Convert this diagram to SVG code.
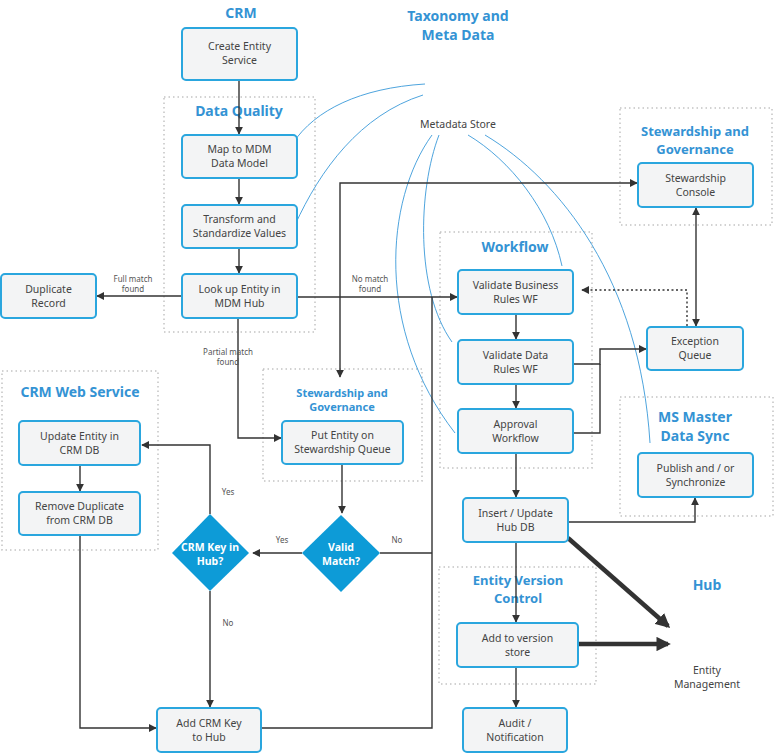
<svg xmlns="http://www.w3.org/2000/svg" width="782" height="755" viewBox="0 0 782 755">
<defs>
<style>
text{font-family:"Noto Sans","Open Sans","Liberation Sans",sans-serif;text-anchor:middle}
.box{fill:#f3f4f5;stroke:#2aa6de;stroke-width:2}
.bt{font-size:10.5px;fill:#444}
.grp{fill:none;stroke:#c4c4c4;stroke-width:1.5;stroke-dasharray:1.5 3}
.ttl{font-size:14px;font-weight:bold;fill:#3493d4}
.t13{font-size:13px}
.sm{font-size:8px;fill:#555}
.ln{fill:none;stroke:#333;stroke-width:1.4}
.thk{fill:none;stroke:#333;stroke-width:4.5}
.cv{fill:none;stroke:#3a9ad9;stroke-width:0.9}
.dia{fill:#0d9bd7}
.dt{font-size:10.5px;font-weight:bold;fill:#fff}
</style>
<marker id="ah" viewBox="0 0 10 10" refX="9" refY="5" markerWidth="8" markerHeight="8" markerUnits="userSpaceOnUse" orient="auto-start-reverse"><path d="M0,0 L10,5 L0,10 z" fill="#333"/></marker>
<marker id="ahb" viewBox="0 0 10 10" refX="8" refY="5" markerWidth="3.2" markerHeight="3.2" orient="auto"><path d="M0,0 L10,5 L0,10 z" fill="#333"/></marker>
</defs>
<rect width="782" height="755" fill="#fff"/>

<g id="groups">
<rect class="grp" x="164" y="97" width="151" height="235"/>
<rect class="grp" x="620" y="108" width="152" height="117"/>
<rect class="grp" x="440" y="232" width="152" height="236"/>
<rect class="grp" x="620" y="397" width="153" height="119"/>
<rect class="grp" x="263" y="369" width="159" height="112"/>
<rect class="grp" x="2" y="371" width="156" height="179"/>
<rect class="grp" x="439" y="567" width="157" height="117"/>
</g>

<g id="titles">
<text class="ttl" x="241" y="18">CRM</text>
<text class="ttl" x="458" y="21">Taxonomy and</text>
<text class="ttl" x="458" y="40">Meta Data</text>
<text class="ttl" x="239" y="116">Data Quality</text>
<text class="ttl t13" x="695" y="136">Stewardship and</text>
<text class="ttl t13" x="695" y="154">Governance</text>
<text class="ttl" x="515" y="252">Workflow</text>
<text class="ttl" x="80" y="397">CRM Web Service</text>
<text class="ttl" x="342" y="397" style="font-size:11px">Stewardship and</text>
<text class="ttl" x="342" y="411" style="font-size:11px">Governance</text>
<text class="ttl" x="695" y="422">MS Master</text>
<text class="ttl" x="695" y="441">Data Sync</text>
<text class="ttl t13" x="518" y="585">Entity Version</text>
<text class="ttl t13" x="518" y="603">Control</text>
<text class="ttl" x="707" y="590">Hub</text>
<text class="bt" x="458" y="128">Metadata Store</text>
<text class="bt" x="707" y="674">Entity</text>
<text class="bt" x="707" y="688">Management</text>
</g>

<g id="connectors">
<path class="cv" d="M425,84 C360,88 315,110 293,143"/>
<path class="cv" d="M423,95 C360,115 320,170 295,225"/>
<path class="cv" d="M432,135 C385,200 375,330 455,433"/>
<path class="cv" d="M439,135 C418,190 415,290 452,342"/>
<path class="cv" d="M468,135 C510,160 550,210 562,266"/>
<path class="cv" d="M485,135 C560,180 640,280 650,443"/>

<path class="ln" d="M239,80 V134" marker-end="url(#ah)"/>
<path class="ln" d="M239,178 V204" marker-end="url(#ah)"/>
<path class="ln" d="M239,248 V273" marker-end="url(#ah)"/>
<path class="ln" d="M182,296 H97" marker-end="url(#ah)"/>
<path class="ln" d="M297,297 H457" marker-end="url(#ah)"/>
<path class="ln" d="M340,297 V183 H637" marker-end="url(#ah)"/>
<path class="ln" d="M340,297 V377" marker-end="url(#ah)"/>
<path class="ln" d="M238,318 V438 H281" marker-end="url(#ah)"/>
<path class="ln" d="M342,464 V513" marker-end="url(#ah)"/>
<path class="ln" d="M302,553 H253" marker-end="url(#ah)"/>
<path class="ln" d="M380,553 H432"/>
<path class="ln" d="M210,514 V445 H142" marker-end="url(#ah)"/>
<path class="ln" d="M210,591 V707" marker-end="url(#ah)"/>
<path class="ln" d="M80,465 V491" marker-end="url(#ah)"/>
<path class="ln" d="M80,535 V728 H156" marker-end="url(#ah)"/>
<path class="ln" d="M261,728 H432 V297"/>
<path class="ln" d="M516,314 V339" marker-end="url(#ah)"/>
<path class="ln" d="M516,384 V408" marker-end="url(#ah)"/>
<path class="ln" d="M516,453 V497" marker-end="url(#ah)"/>
<path class="ln" d="M573,364 H600 V349 H646" marker-end="url(#ah)"/>
<path class="ln" d="M573,433 H600 V364"/>
<path class="ln" d="M568,522 H695 V498" marker-end="url(#ah)"/>
<path class="ln" d="M516,542 V622" marker-end="url(#ah)"/>
<path class="ln" d="M516,667 V707" marker-end="url(#ah)"/>
<path class="ln" d="M696,208 V326" marker-start="url(#ah)" marker-end="url(#ah)"/>
<path class="ln" d="M687,326 V290 H582" stroke-dasharray="2 2.5" marker-end="url(#ah)"/>
<path class="thk" d="M568,538 L668,626" marker-end="url(#ahb)"/>
<path class="thk" d="M578,644 H668" marker-end="url(#ahb)"/>

<text class="sm" x="133" y="282">Full match</text>
<text class="sm" x="133" y="292">found</text>
<text class="sm" x="370" y="282">No match</text>
<text class="sm" x="370" y="292">found</text>
<text class="sm" x="228" y="355">Partial match</text>
<text class="sm" x="228" y="365">found</text>
<text class="sm" x="282" y="543">Yes</text>
<text class="sm" x="397" y="543">No</text>
<text class="sm" x="228" y="495">Yes</text>
<text class="sm" x="228" y="626">No</text>
</g>

<g id="create-entity"><rect class="box" x="182" y="28" width="115" height="52" rx="4"/><text class="bt" x="239.5" y="50">Create Entity</text><text class="bt" x="239.5" y="64">Service</text></g>
<g id="map-mdm"><rect class="box" x="182" y="135" width="115" height="43" rx="4"/><text class="bt" x="239.5" y="153">Map to MDM</text><text class="bt" x="239.5" y="167">Data Model</text></g>
<g id="transform"><rect class="box" x="182" y="205" width="115" height="43" rx="4"/><text class="bt" x="239.5" y="223">Transform and</text><text class="bt" x="239.5" y="237">Standardize Values</text></g>
<g id="lookup"><rect class="box" x="182" y="274" width="115" height="44" rx="4"/><text class="bt" x="239.5" y="293">Look up Entity in</text><text class="bt" x="239.5" y="307">MDM Hub</text></g>
<g id="duplicate"><rect class="box" x="1" y="274" width="95" height="44" rx="4"/><text class="bt" x="48.5" y="293">Duplicate</text><text class="bt" x="48.5" y="307">Record</text></g>
<g id="steward-console"><rect class="box" x="638" y="163" width="115" height="44" rx="4"/><text class="bt" x="695.5" y="182">Stewardship</text><text class="bt" x="695.5" y="196">Console</text></g>
<g id="validate-business"><rect class="box" x="458" y="270" width="115" height="44" rx="4"/><text class="bt" x="515.5" y="289">Validate Business</text><text class="bt" x="515.5" y="303">Rules WF</text></g>
<g id="validate-data"><rect class="box" x="458" y="340" width="115" height="44" rx="4"/><text class="bt" x="515.5" y="359">Validate Data</text><text class="bt" x="515.5" y="373">Rules WF</text></g>
<g id="approval"><rect class="box" x="458" y="409" width="115" height="44" rx="4"/><text class="bt" x="515.5" y="428">Approval</text><text class="bt" x="515.5" y="442">Workflow</text></g>
<g id="exception"><rect class="box" x="647" y="327" width="96" height="43" rx="4"/><text class="bt" x="695" y="345">Exception</text><text class="bt" x="695" y="359">Queue</text></g>
<g id="publish"><rect class="box" x="638" y="453" width="115" height="44" rx="4"/><text class="bt" x="695.5" y="472">Publish and / or</text><text class="bt" x="695.5" y="486">Synchronize</text></g>
<g id="insert"><rect class="box" x="463" y="498" width="105" height="44" rx="4"/><text class="bt" x="515.5" y="517">Insert / Update</text><text class="bt" x="515.5" y="531">Hub DB</text></g>
<g id="add-version"><rect class="box" x="457" y="623" width="121" height="44" rx="4"/><text class="bt" x="517.5" y="642">Add to version</text><text class="bt" x="517.5" y="656">store</text></g>
<g id="audit"><rect class="box" x="463" y="708" width="104" height="44" rx="4"/><text class="bt" x="515" y="727">Audit /</text><text class="bt" x="515" y="741">Notification</text></g>
<g id="put-entity"><rect class="box" x="282" y="421" width="121" height="43" rx="4"/><text class="bt" x="342.5" y="439">Put Entity on</text><text class="bt" x="342.5" y="453">Stewardship Queue</text></g>
<g id="update-entity"><rect class="box" x="19" y="421" width="121" height="44" rx="4"/><text class="bt" x="79.5" y="440">Update Entity in</text><text class="bt" x="79.5" y="454">CRM DB</text></g>
<g id="remove-duplicate"><rect class="box" x="19" y="492" width="121" height="43" rx="4"/><text class="bt" x="79.5" y="510">Remove Duplicate</text><text class="bt" x="79.5" y="524">from CRM DB</text></g>
<g id="add-crm-key"><rect class="box" x="157" y="708" width="104" height="44" rx="4"/><text class="bt" x="209" y="727">Add CRM Key</text><text class="bt" x="209" y="741">to Hub</text></g>
<g id="valid-match"><path class="dia" d="M341,515 L380,553 L341,592 L302,553 z"/><text class="dt" x="341" y="551">Valid</text><text class="dt" x="341" y="565">Match?</text></g>
<g id="crm-key"><path class="dia" d="M210,514 L249,553 L210,591 L172,553 z"/><text class="dt" x="210" y="551">CRM Key in</text><text class="dt" x="210" y="565">Hub?</text></g>
</svg>
